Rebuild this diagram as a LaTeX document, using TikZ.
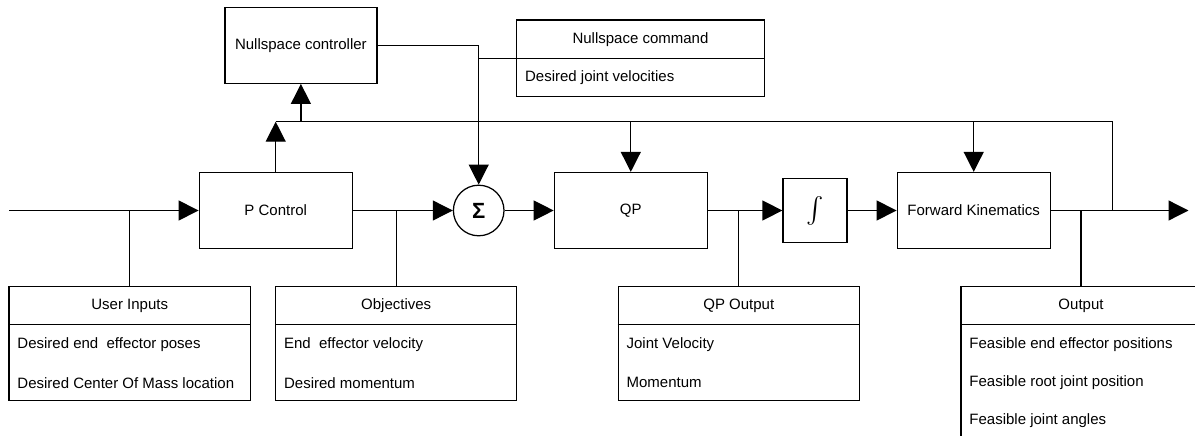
\documentclass[tikz,border=0pt]{standalone}
\usepackage{graphicx}
\usepackage{fontspec}
\setmainfont{Liberation Sans}
\usetikzlibrary{arrows.meta}
\tikzset{
  every picture/.style={line width=1.25pt},
  blk/.style={draw, rectangle, minimum width=153pt, minimum height=76pt, inner sep=0pt, font=\fontsize{15}{18}\selectfont},
  tbl/.style={draw, rectangle, inner sep=0pt},
  hdr/.style={inner sep=0pt, font=\fontsize{15}{18}\selectfont},
  rowtxt/.style={inner sep=0pt, anchor=west, font=\fontsize{15}{18}\selectfont},
  arr/.style={-{Triangle[length=20pt,width=20pt]}},
}
\begin{document}
\begin{tikzpicture}[x=1pt,y=-1pt]
\useasboundingbox (0,0) rectangle (1195,436);
\clip (0,0) rectangle (1195,436);

% blocks
\node[blk, minimum width=152pt] (nc) at (300.9,45.3) {Nullspace controller};
\node[blk] (pc) at (275.7,210.5) {P Control};
\node[draw, circle, minimum size=50.6pt, inner sep=0pt] (sum) at (478.7,210.5) {\fontsize{22}{22}\selectfont\bfseries Σ};
\node[blk] (qp) at (630.8,210.5) {QP};
\node[draw, rectangle, minimum width=64pt, minimum height=64pt, inner sep=0pt] (int) at (815,210.5) {\scalebox{2.6}{$\int$}};
\node[blk] (fk) at (973.7,210.5) {Forward Kinematics};

% tables
\node[tbl, minimum width=247.6pt, minimum height=76.3pt] (ncmd) at (640.5,58.2) {};
\draw (ncmd.west |- 0,58.3) -- (ncmd.east |- 0,58.3);
\node[hdr] (ncmdh) at (640.5,39.2) {Nullspace command};
\node[rowtxt] (ncmd1) at (524.5,77.3) {Desired joint velocities};

\node[tbl, minimum width=241.3pt, minimum height=114pt] (ui) at (129.7,343.7) {};
\draw (ui.west |- 0,324.7) -- (ui.east |- 0,324.7);
\node[hdr] (uih) at (129.7,305.7) {User Inputs};
\node[rowtxt] (ui1) at (16.8,344.7) {Desired end\ \ effector poses};
\node[rowtxt] (ui2) at (16.8,382.7) {Desired Center Of Mass location};

\node[tbl, minimum width=240.9pt, minimum height=114pt] (obj) at (396.2,343.7) {};
\draw (obj.west |- 0,324.7) -- (obj.east |- 0,324.7);
\node[hdr] (objh) at (396.2,305.7) {Objectives};
\node[rowtxt] (obj1) at (283.5,344.7) {End\ \ effector velocity};
\node[rowtxt] (obj2) at (283.5,382.7) {Desired momentum};

\node[tbl, minimum width=241.1pt, minimum height=114pt] (qpo) at (738.8,343.7) {};
\draw (qpo.west |- 0,324.7) -- (qpo.east |- 0,324.7);
\node[hdr] (qpoh) at (738.8,305.7) {QP Output};
\node[rowtxt] (qpo1) at (626,344.7) {Joint Velocity};
\node[rowtxt] (qpo2) at (626,382.7) {Momentum};

\node[tbl, minimum width=240pt, minimum height=152pt] (out) at (1081,362.7) {};
\draw (out.west |- 0,324.7) -- (out.east |- 0,324.7);
\node[hdr] (outh) at (1081,305.7) {Output};
\node[rowtxt] (out1) at (968.8,344.7) {Feasible end effector positions};
\node[rowtxt] (out2) at (968.8,382.7) {Feasible root joint position};
\node[rowtxt] (out3) at (968.8,420.7) {Feasible joint angles};

% connector coordinates
\coordinate (in) at (9,210.5);
\coordinate (end) at (1188.5,210.5);
\coordinate (busL) at (275.7,121.7);
\coordinate (busR) at (1112.7,121.7);

% main line
\draw[arr] (in) -- (pc.west);
\draw (ui.north |- in) -- (ui.north);
\draw[arr] (pc.east) -- (sum.west);
\draw (obj.north |- pc.east) -- (obj.north);
\draw[arr] (sum.east) -- (qp.west);
\draw[arr] (qp.east) -- (int.west);
\draw (qpo.north |- qp.east) -- (qpo.north);
\draw[arr] (int.east) -- (fk.west);
\draw[arr] (fk.east) -- (end);
\draw (out.north |- fk.east) -- (out.north);

% feedback bus
\draw[arr] (pc.north) -- (busL);
\draw (busL) -- (busR) -- (busR |- fk.east);
\draw[arr] (nc.south |- busL) -- (nc.south);
\draw[arr] (qp.north |- busL) -- (qp.north);
\draw[arr] (fk.north |- busL) -- (fk.north);

% nullspace path
\draw[arr] (nc.east) -| (sum.north);
\draw (sum.north |- ncmd.west) -- (ncmd.west);
\end{tikzpicture}
\end{document}
